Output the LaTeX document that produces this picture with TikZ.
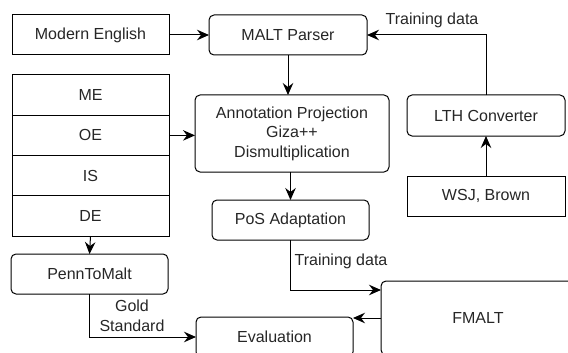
\documentclass[tikz,border=0pt]{standalone}
\usepackage{fontspec}
\setmainfont{Liberation Sans}
\usetikzlibrary{arrows.meta,calc}
\begin{document}
\begin{tikzpicture}[x=1pt,y=-1pt,
  base/.style={draw=black, line width=1pt, inner sep=0pt, outer sep=0pt,
    font=\fontsize{16pt}{19.5pt}\selectfont, align=center, text=black!85},
  sqbox/.style={base, minimum width=157pt, minimum height=40pt},
  rbox/.style={base, rounded corners=5pt, minimum width=157pt, minimum height=40pt},
  lbl/.style={inner sep=0pt, font=\fontsize{16pt}{20pt}\selectfont, align=center, text=black!85},
  arr/.style={line width=1pt, -{Stealth[length=12pt,width=10.5pt,inset=4pt]}},
  ln/.style={line width=1pt}]
\clip (0,0) rectangle (568,353);
\useasboundingbox (0,0) rectangle (568,353);
% nodes
\node[sqbox] (modern) at (90.5,35) {Modern English};
\node[rbox, minimum width=158pt] (malt) at (288,35) {MALT Parser};
\node[sqbox, minimum height=40.25pt] (me) at (90.5,95.1) {ME};
\node[sqbox, minimum height=40.25pt] (oe) at (90.5,135.4) {OE};
\node[sqbox, minimum height=40.25pt] (is) at (90.5,175.6) {IS};
\node[sqbox, minimum height=40.25pt] (de) at (90.5,215.9) {DE};
\node[rbox, minimum width=194pt, minimum height=77pt] (ann) at (292,133.5) {Annotation Projection\\Giza++\\Dismultiplication};
\node[rbox, minimum width=158pt, minimum height=41pt] (lth) at (486,115.5) {LTH Converter};
\node[sqbox, minimum width=158pt] (wsj) at (486,196) {WSJ, Brown};
\node[rbox] (pos) at (290.5,220) {PoS Adaptation};
\node[rbox] (ptm) at (89.5,274) {PennToMalt};
\node[rbox, minimum width=194pt, minimum height=74pt] (fmalt) at (478,318) {FMALT};
\node[rbox] (eval) at (274.5,337) {Evaluation};
% connectors
\draw[arr] (modern.east) -- (malt.west);
\draw[arr] (malt.south) -- (malt.south |- ann.north);
\draw[arr] (oe.east) -- (oe.east -| ann.west);
\draw[arr] (pos.north |- ann.south) -- (pos.north);
\draw[arr] (wsj.north) -- (lth.south);
\draw[arr] (lth.north) |- (malt.east);
\node[lbl] (td1) at (432,20) {Training data};
\draw[arr] (de.south) -- (ptm.north);
\coordinate (fin) at ($(fmalt.north west)+(0,9)$);
\draw[arr] (pos.south) |- (fin);
\node[lbl] (td2) at (341,261) {Training data};
\draw[arr] (fmalt.west) -- (fmalt.west -| eval.east);
\draw[arr] (ptm.south) |- (eval.west);
\node[lbl] (gold) at (132,316) {Gold\\Standard};
\end{tikzpicture}
\end{document}
